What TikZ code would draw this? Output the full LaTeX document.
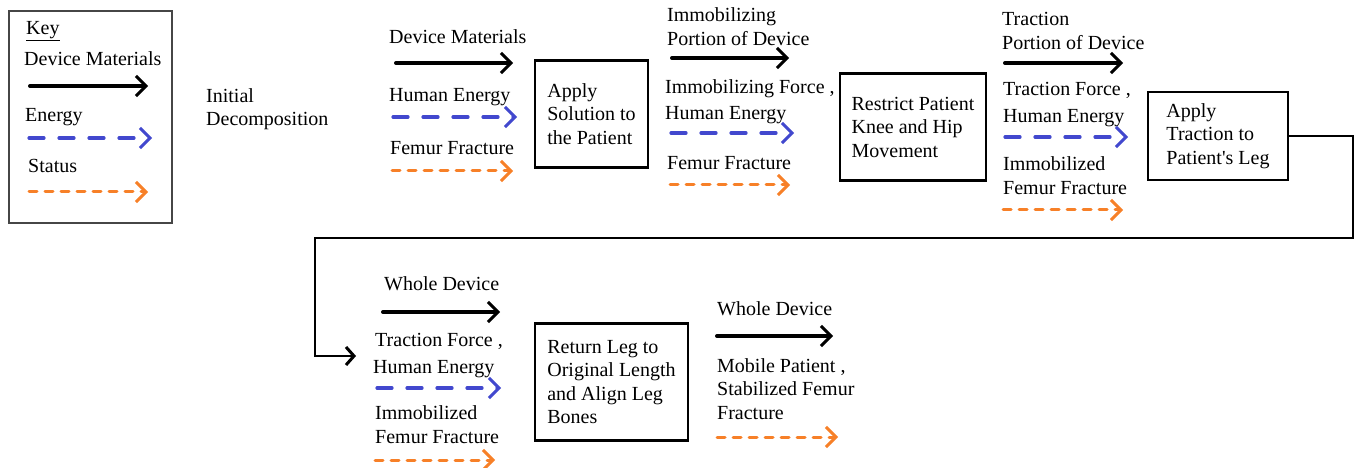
\documentclass[tikz,border=0pt]{standalone}
\usepackage{fontspec}
\setmainfont{Liberation Serif}
\usetikzlibrary{arrows.meta}
\definecolor{energyblue}{RGB}{66,72,206}
\definecolor{statusorange}{RGB}{247,128,40}
\definecolor{keygray}{RGB}{70,70,70}
\begin{document}
\begin{tikzpicture}[x=1pt,y=-1pt,
  lbl/.style={anchor=north west, inner sep=0pt, align=left, font=\fontsize{20}{23.5}\selectfont},
  procbox/.style={draw, line width=2.8pt, align=left, inner sep=0pt, font=\fontsize{20}{23.5}\selectfont},
  barb/.style={-{Straight Barb[length=10pt,width=20pt,line width=3pt]}},
  matarrow/.style={barb, line width=4pt, line cap=round},
  enarrow/.style={barb, energyblue, line width=3.2pt, line cap=round, dash pattern=on 15pt off 15pt},
  starrow/.style={barb, statusorange, line width=3pt, line cap=round, dash pattern=on 8pt off 8pt},
  flow/.style={line width=2.7pt, -{Straight Barb[length=8pt,width=18pt,line width=3pt]}}]
\useasboundingbox (0,0) rectangle (1361,468);

% ---------- Key ----------
\node[draw=keygray, line width=1.2pt, minimum width=163pt, minimum height=212pt, inner sep=0pt] (keybox) at (90.5,117) {};
\node[lbl] (keyt) at (26,21.5) {\underline{Key}};
\node[lbl] (keydm) at (24,51.5) {Device Materials};
\node[lbl] (keyen) at (25,108) {Energy};
\node[lbl] (keyst) at (28,159) {Status};
\coordinate (k1s) at (30,86);  \coordinate (k1e) at (148,86);
\coordinate (k2s) at (29,138); \coordinate (k2e) at (152,138);
\coordinate (k3s) at (29,192); \coordinate (k3e) at (148,192);
\draw[matarrow] (k1s) -- (k1e);
\draw[enarrow] (k2s) -- (k2e);
\draw[starrow] (k3s) -- (k3e);

\node[lbl] (init) at (206,88) {Initial\\Decomposition};

% ---------- Stage 1 ----------
\node[lbl] (s1a) at (389,29.5) {Device Materials};
\node[lbl] (s1b) at (389,88.5) {Human Energy};
\node[lbl] (s1c) at (390,141.5) {Femur Fracture};
\coordinate (a1s) at (396,63);  \coordinate (a1e) at (513,63);
\coordinate (a2s) at (393,117); \coordinate (a2e) at (517,117);
\coordinate (a3s) at (392,171); \coordinate (a3e) at (513,171);
\draw[matarrow] (a1s) -- (a1e);
\draw[enarrow] (a2s) -- (a2e);
\draw[starrow] (a3s) -- (a3e);
\node[procbox, minimum width=113pt, minimum height=107pt] (b1) at (591.5,114) {Apply\\Solution to\\the Patient};

% ---------- Stage 2 ----------
\node[lbl] (s2a) at (667,7.5) {Immobilizing\\Portion of Device};
\node[lbl] (s2b) at (665,79) {Immobilizing Force ,\\[3pt]Human Energy};
\node[lbl] (s2c) at (667,156.5) {Femur Fracture};
\coordinate (c1s) at (672,58);  \coordinate (c1e) at (789,58);
\coordinate (c2s) at (671,133); \coordinate (c2e) at (794,133);
\coordinate (c3s) at (670,185); \coordinate (c3e) at (790,185);
\draw[matarrow] (c1s) -- (c1e);
\draw[enarrow] (c2s) -- (c2e);
\draw[starrow] (c3s) -- (c3e);
\node[procbox, minimum width=146pt, minimum height=107pt] (b2) at (913,127) {Restrict Patient\\Knee and Hip\\Movement};

% ---------- Stage 3 ----------
\node[lbl] (s3a) at (1002,12.5) {Traction\\Portion of Device};
\node[lbl] (s3b) at (1003,82.5) {Traction Force ,\\[3pt]Human Energy};
\node[lbl] (s3c) at (1003,156.5) {Immobilized\\Femur Fracture};
\coordinate (d1s) at (1005,63);  \coordinate (d1e) at (1123,63);
\coordinate (d2s) at (1005,137); \coordinate (d2e) at (1128,137);
\coordinate (d3s) at (1003,210); \coordinate (d3e) at (1123,210);
\draw[matarrow] (d1s) -- (d1e);
\draw[enarrow] (d2s) -- (d2e);
\draw[starrow] (d3s) -- (d3e);
\node[procbox, minimum width=140pt, minimum height=88pt] (b3) at (1218,136) {Apply\\Traction to\\Patient\textquotesingle s Leg};

% ---------- wrap connector ----------
\coordinate (w1) at (1353,136);
\coordinate (w2) at (1353,238);
\coordinate (w3) at (315,238);
\coordinate (w4) at (315,356);
\coordinate (w5) at (356,356);
\draw[flow] (b3.east) -- (w1) -- (w2) -- (w3) -- (w4) -- (w5);

% ---------- Stage 4 ----------
\node[lbl] (s4a) at (384,276.5) {Whole Device};
\node[lbl] (s4b) at (375,333) {Traction Force ,};
\node[lbl] (s4c) at (373,360) {Human Energy};
\node[lbl] (s4d) at (375,405) {Immobilized\\[1pt]Femur Fracture};
\coordinate (e1s) at (383,312); \coordinate (e1e) at (500,312);
\coordinate (e2s) at (377,388); \coordinate (e2e) at (501,388);
\coordinate (e3s) at (375,460); \coordinate (e3e) at (495,460);
\draw[matarrow] (e1s) -- (e1e);
\draw[enarrow] (e2s) -- (e2e);
\draw[starrow] (e3s) -- (e3e);
\node[procbox, minimum width=153pt, minimum height=117pt] (b4) at (611.5,382) {Return Leg to\\Original Length\\and Align Leg\\Bones};

% ---------- Stage 5 ----------
\node[lbl] (s5a) at (717,301.5) {Whole Device};
\node[lbl] (s5b) at (717,358) {Mobile Patient ,\\Stabilized Femur\\Fracture};
\coordinate (f1s) at (717,336); \coordinate (f1e) at (833,336);
\coordinate (f3s) at (717,437); \coordinate (f3e) at (838,437);
\draw[matarrow] (f1s) -- (f1e);
\draw[starrow] (f3s) -- (f3e);
\end{tikzpicture}
\end{document}
